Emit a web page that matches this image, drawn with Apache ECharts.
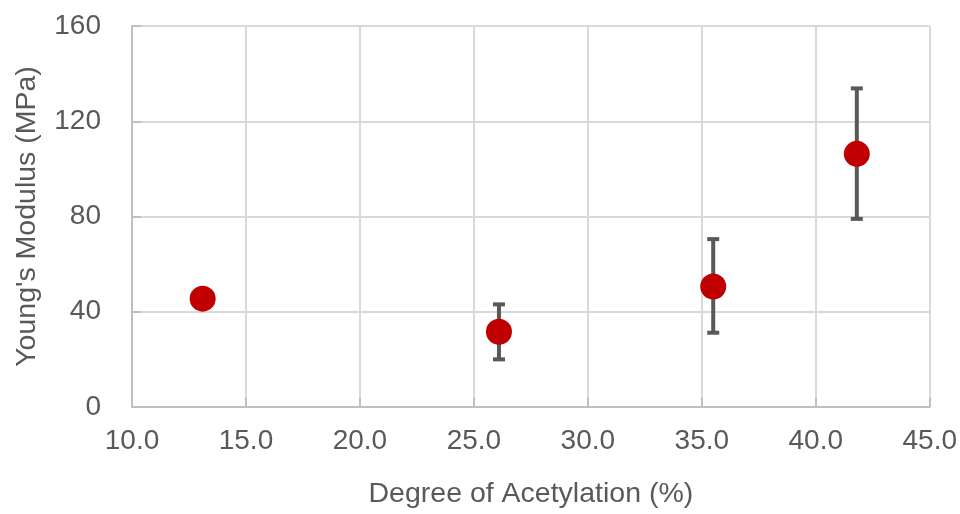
<!DOCTYPE html>
<html><head><meta charset="utf-8">
<script src="https://cdn.jsdelivr.net/npm/echarts@6/dist/echarts.min.js"></script>
<style>html,body{margin:0;padding:0;background:#fff}#c{width:960px;height:514px}</style>
</head><body><div id="c"></div>
<script>
const acetylation = [13.1, 26.1, 35.5, 41.8];
const modulus = [45.5, 31.6, 50.6, 106.3];
const errLow = [null, 20.0, 31.2, 79.0];
const errHigh = [null, 43.1, 70.5, 133.8];
const xTicks = {min: 10, max: 45, interval: 5};
const yTicks = {min: 0, max: 160, interval: 40};

const FONT = 'Liberation Sans';
const TXT = '#595959';
const chart = echarts.init(document.getElementById('c'));
const errData = acetylation.map((x, i) => [x, errLow[i], errHigh[i]]).filter(d => d[1] != null);
chart.setOption({
  animation: false,
  grid: {left: 132, right: 30, top: 26, bottom: 105},
  xAxis: {
    type: 'value', min: xTicks.min, max: xTicks.max, interval: xTicks.interval,
    axisLine: {show: true, lineStyle: {color: '#bfbfbf', width: 2}},
    axisTick: {show: true, inside: true, length: 9, lineStyle: {color: '#bfbfbf', width: 2}},
    splitLine: {show: true, lineStyle: {color: '#d9d9d9', width: 2}},
    axisLabel: {formatter: v => v.toFixed(1), color: TXT, fontFamily: FONT, fontSize: 28, margin: 20},
    name: 'Degree of Acetylation (%)', nameLocation: 'middle', nameGap: 73,
    nameTextStyle: {color: TXT, fontFamily: FONT, fontSize: 28.5}
  },
  yAxis: {
    type: 'value', min: yTicks.min, max: yTicks.max, interval: yTicks.interval,
    axisLine: {show: true, lineStyle: {color: '#bfbfbf', width: 2}},
    axisTick: {show: true, inside: true, length: 9, lineStyle: {color: '#bfbfbf', width: 2}},
    splitLine: {show: true, lineStyle: {color: '#d9d9d9', width: 2}},
    axisLabel: {color: TXT, fontFamily: FONT, fontSize: 28, margin: 31},
    name: "Young's Modulus (MPa)", nameLocation: 'middle', nameGap: 90,
    nameTextStyle: {color: TXT, fontFamily: FONT, fontSize: 28.5}
  },
  series: [
    {
      type: 'custom', z: 2,
      data: errData,
      renderItem: function (params, api) {
        const x = api.value(0);
        const lo = api.coord([x, api.value(1)]);
        const hi = api.coord([x, api.value(2)]);
        const cap = 6;
        const style = {stroke: '#595959', lineWidth: 4};
        return {type: 'group', children: [
          {type: 'line', shape: {x1: lo[0], y1: lo[1], x2: hi[0], y2: hi[1]}, style},
          {type: 'line', shape: {x1: lo[0] - cap, y1: lo[1], x2: lo[0] + cap, y2: lo[1]}, style},
          {type: 'line', shape: {x1: hi[0] - cap, y1: hi[1], x2: hi[0] + cap, y2: hi[1]}, style}
        ]};
      }
    },
    {
      type: 'scatter', z: 3,
      data: acetylation.map((x, i) => [x, modulus[i]]),
      symbolSize: 26,
      itemStyle: {color: '#c00000', opacity: 1}
    }
  ]
});
</script></body></html>
